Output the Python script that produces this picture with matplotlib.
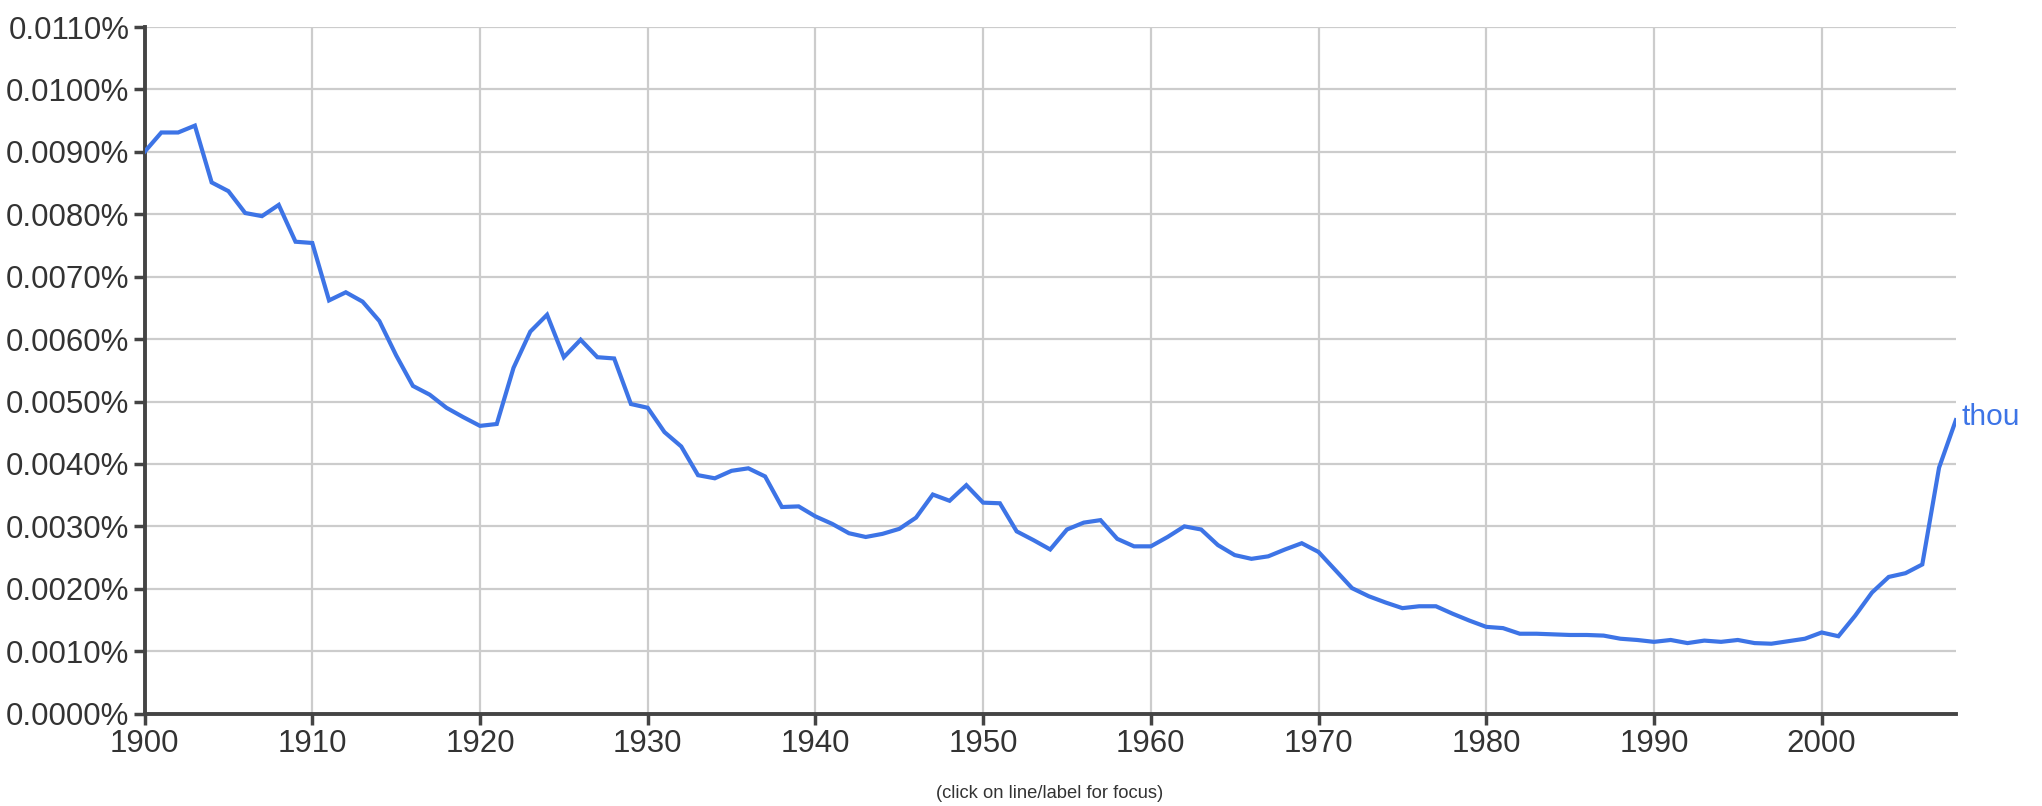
import matplotlib
matplotlib.use("Agg")
import matplotlib.pyplot as plt
from matplotlib.ticker import FuncFormatter

plt.rcParams["font.family"] = ["Liberation Sans", "DejaVu Sans"]

# yearly frequency of "thou", in percent
years = list(range(1900, 2009))
thou = [
    0.00900, 0.00931, 0.00931, 0.00942, 0.00851, 0.00837, 0.00802, 0.00797, 0.00815, 0.00756,
    0.00754, 0.00662, 0.00675, 0.00660, 0.00629, 0.00574, 0.00525, 0.00511, 0.00490, 0.00475,
    0.00461, 0.00464, 0.00554, 0.00612, 0.00639, 0.00571, 0.00599, 0.00571, 0.00569, 0.00496,
    0.00490, 0.00451, 0.00428, 0.00382, 0.00377, 0.00389, 0.00393, 0.00380, 0.00331, 0.00332,
    0.00316, 0.00304, 0.00289, 0.00283, 0.00288, 0.00296, 0.00314, 0.00351, 0.00341, 0.00366,
    0.00338, 0.00337, 0.00292, 0.00278, 0.00263, 0.00295, 0.00306, 0.00310, 0.00280, 0.00268,
    0.00268, 0.00283, 0.00300, 0.00295, 0.00270, 0.00254, 0.00248, 0.00252, 0.00263, 0.00273,
    0.00259, 0.00230, 0.00201, 0.00188, 0.00178, 0.00169, 0.00172, 0.00172, 0.00160, 0.00149,
    0.00139, 0.00137, 0.00128, 0.00128, 0.00127, 0.00126, 0.00126, 0.00125, 0.00120, 0.00118,
    0.00115, 0.00118, 0.00113, 0.00117, 0.00115, 0.00118, 0.00113, 0.00112, 0.00116, 0.00120,
    0.00130, 0.00124, 0.00157, 0.00194, 0.00219, 0.00225, 0.00239, 0.00394, 0.00470,
]
y_ticks = [i * 0.001 for i in range(12)]
x_ticks = list(range(1900, 2001, 10))

blue = "#3d74e6"
dark = "#444444"

fig = plt.figure(figsize=(20.42, 8.06), dpi=100)
ax = fig.add_axes([0.0708, 0.1146, 0.8870, 0.8519])

ax.plot(years, thou, color=blue, lw=3.0, solid_joinstyle="miter", zorder=3)
ax.text(years[-1] + 0.35, thou[-1] + 0.00005, "thou", color=blue, fontsize=21.5,
        va="center", ha="left")

ax.set_xlim(1900, 2008)
ax.set_ylim(0, 0.011)
ax.set_xticks(x_ticks)
ax.set_yticks(y_ticks)
ax.yaxis.set_major_formatter(FuncFormatter(lambda v, p: f"{v:.4f}%"))
ax.grid(True, color="#cccccc", lw=1.6)
ax.set_axisbelow(True)

for s in ["top", "right"]:
    ax.spines[s].set_visible(False)
for s in ["left", "bottom"]:
    ax.spines[s].set_color(dark)
    ax.spines[s].set_linewidth(2.8)
ax.tick_params(axis="both", colors=dark, labelcolor="#333333", length=8, width=2.5,
               labelsize=22.5)
ax.tick_params(axis="y", pad=3)
ax.tick_params(axis="x", pad=3)

fig.text(0.514, 0.016, "(click on line/label for focus)", ha="center", va="center",
         fontsize=13.2, color="#333333")

fig.savefig("out.png", dpi=100)
